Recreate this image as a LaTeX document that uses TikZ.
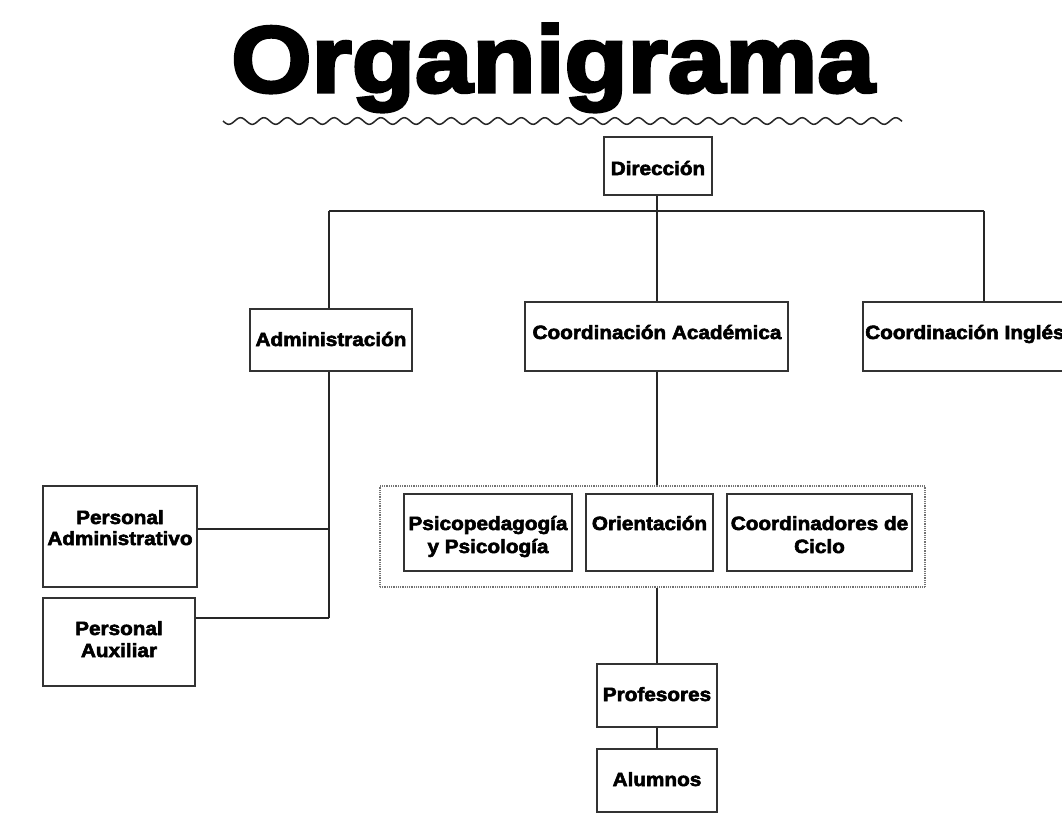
\documentclass[tikz,border=0pt]{standalone}
\usepackage{fontspec}
\newfontfamily\boxfont{Liberation Sans Bold}[FakeStretch=1.08,FakeBold=3]
\newfontfamily\titlefont{Liberation Sans Bold}[FakeStretch=1.10,FakeBold=3.5]
\begin{document}
\begin{tikzpicture}[x=1pt,y=-1pt,
  box/.style={draw=black!80,line width=1.4pt,rectangle,inner sep=0pt,fill=white},
  grp/.style={draw=black!55,line width=1.1pt,dash pattern=on 1pt off 0.8pt,rectangle,inner sep=0pt},
  lbl/.style={font=\boxfont\fontsize{19.2}{22}\selectfont,inner sep=0pt,anchor=base,text=black},
  conn/.style={draw=black!85,line width=1.3pt}]
\useasboundingbox (0,0) rectangle (1062,823);
\clip (0,0) rectangle (1062,823);
\fill[white] (0,0) rectangle (1062,823);
% title
\node[inner sep=0pt,anchor=base west] (title) at (231,92) {\titlefont\fontsize{94}{100}\selectfont Organigrama};
\draw[black!85,line width=1.5pt] plot[domain=223:902,samples=500,smooth] (\x,{121+3.3*sin((\x-223)/23.4*360)});
% boxes
\node[box,minimum width=108pt,minimum height=58pt] (dir) at (658,166) {};
\node[box,minimum width=162pt,minimum height=62pt] (admin) at (331,340) {};
\node[box,minimum width=263pt,minimum height=69pt] (acad) at (656.5,336.5) {};
\node[box,minimum width=217pt,minimum height=69pt] (ingles) at (971.5,336.5) {};
\node[grp,minimum width=545pt,minimum height=101pt] (grupo) at (652.5,536.5) {};
\node[box,minimum width=168pt,minimum height=77pt] (psico) at (488,532.5) {};
\node[box,minimum width=127pt,minimum height=77pt] (orient) at (649.5,532.5) {};
\node[box,minimum width=185pt,minimum height=77pt] (ciclo) at (819.5,532.5) {};
\node[box,minimum width=154pt,minimum height=101pt] (padm) at (120,536.5) {};
\node[box,minimum width=152pt,minimum height=88pt] (paux) at (119,642) {};
\node[box,minimum width=120pt,minimum height=63pt] (prof) at (657,695.5) {};
\node[box,minimum width=120pt,minimum height=63pt] (alum) at (657,780.5) {};
% labels
\node[lbl] (dirT) at (658,175) {Dirección};
\node[lbl] (adminT) at (331,346) {Administración};
\node[lbl] (acadT) at (657,339) {Coordinación Académica};
\node[lbl,anchor=base west] (inglesT) at (865,339) {Coordinación Inglés};
\node[lbl] (psicoT1) at (488,530) {Psicopedagogía};
\node[lbl] (psicoT2) at (488,553) {y Psicología};
\node[lbl] (orientT) at (649.5,530) {Orientación};
\node[lbl] (cicloT1) at (819.5,530) {Coordinadores de};
\node[lbl] (cicloT2) at (819.5,553) {Ciclo};
\node[lbl] (padmT1) at (120,524) {Personal};
\node[lbl] (padmT2) at (120,545) {Administrativo};
\node[lbl] (pauxT1) at (119,635) {Personal};
\node[lbl] (pauxT2) at (119,657) {Auxiliar};
\node[lbl] (profT) at (657,701) {Profesores};
\node[lbl] (alumT) at (657,786) {Alumnos};
% connectors
\coordinate (hl) at (329,211);
\coordinate (hr) at (984,211);
\coordinate (hm) at (657,211);
\coordinate (pa) at (329,529);
\coordinate (px) at (329,618);
\path[conn] (hl) -- (hr);
\path[conn] (dir.south -| hm) -- (acad.north -| hm);
\path[conn] (hl) -- (admin.north -| hl);
\path[conn] (hr) -- (ingles.north -| hr);
\path[conn] (admin.south -| hl) -- (px);
\path[conn] (pa) -- (padm.east |- pa);
\path[conn] (px) -- (paux.east |- px);
\path[conn] (acad.south -| hm) -- (grupo.north -| hm);
\path[conn] (grupo.south -| hm) -- (prof.north -| hm);
\path[conn] (prof.south -| hm) -- (alum.north -| hm);
\end{tikzpicture}
\end{document}
